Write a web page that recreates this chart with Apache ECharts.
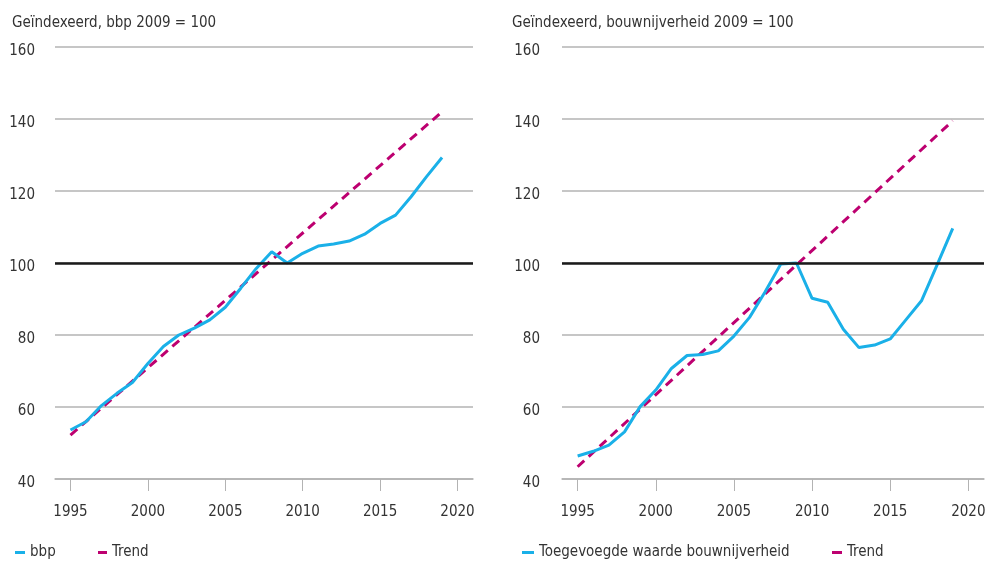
<!DOCTYPE html>
<html>
<head>
<meta charset="utf-8">
<script src="https://cdn.jsdelivr.net/npm/echarts@6/dist/echarts.min.js"></script>
<style>
html,body{margin:0;padding:0;background:#fff;}
#c{width:986px;height:564px;}
</style>
</head>
<body>
<div id="c"></div>
<script>
// ---- data ----
var years = [1995,1996,1997,1998,1999,2000,2001,2002,2003,2004,2005,2006,2007,2008,2009,2010,2011,2012,2013,2014,2015,2016,2017,2018,2019];
var bbp = [53.6,55.9,60.4,63.8,66.8,72.1,76.8,80.0,81.9,84.2,87.7,93.0,98.5,103.1,100,102.7,104.7,105.3,106.1,108.0,111.0,113.3,118.4,124.0,129.3];
var bouw = [46.4,47.7,49.4,53.1,60.1,64.7,70.7,74.3,74.6,75.6,79.7,84.9,92.0,99.7,100,90.2,89.1,81.6,76.5,77.2,78.9,84.2,89.5,99.5,109.6];
var trendYears = [1995, 2019];
var trendBbp = [52.2, 142.0];
var trendBouw = [43.4, 139.5];
var xTicks = [1995,2000,2005,2010,2015,2020];
var titles = ['Geïndexeerd, bbp 2009 = 100', 'Geïndexeerd, bouwnijverheid 2009 = 100'];
var nameBbp = 'bbp';
var nameBouw = 'Toegevoegde waarde bouwnijverheid';
var nameTrend = 'Trend';

function pairs(xs, ys){ return xs.map(function(x,i){ return [x, ys[i]]; }); }

var FONT = "'Liberation Sans Narrow','DejaVu Sans Condensed','Roboto',sans-serif";
var TXT = '#333';
var BLUE = '#1ab0e8';
var PINK = '#bd0070';
var GRID = '#b3b3b3';
var FS = 15;

function xAxis(idx){
  return {
    type:'value', gridIndex: idx, min:1994, max:2021,
    axisLine:{show:true, lineStyle:{color:GRID, width:1.5}},
    axisTick:{show:true, length:12, customValues: xTicks, lineStyle:{color:GRID, width:1}},
    axisLabel:{customValues: xTicks, color:TXT, fontFamily:FONT, fontSize:FS, margin:26,
      formatter:function(v){ return String(v); }},
    splitLine:{show:false}
  };
}
function yAxis(idx, margin){
  return {
    type:'value', gridIndex: idx, min:40, max:160, interval:20,
    axisLine:{show:false}, axisTick:{show:false},
    axisLabel:{color:TXT, fontFamily:FONT, fontSize:FS, margin:margin, verticalAlign:'top', lineHeight:9},
    splitLine:{show:true, lineStyle:{color:GRID, width:1.5}}
  };
}
var mark100 = {
  silent:true, symbol:['none','none'], label:{show:false},
  lineStyle:{color:'#1a1a1a', width:2.5, type:'solid'},
  data:[{yAxis:100}]
};
function blueSeries(name, idx, data){
  return {
    name:name, type:'line', xAxisIndex:idx, yAxisIndex:idx, data:data,
    showSymbol:false, symbol:'none', z:4,
    lineStyle:{color:BLUE, width:3}, itemStyle:{color:BLUE},
    markLine: mark100
  };
}
function trendSeries(idx, data){
  return {
    name:nameTrend, type:'line', xAxisIndex:idx, yAxisIndex:idx, data:data,
    showSymbol:false, symbol:'none', z:3,
    lineStyle:{color:PINK, width:3, type:[9,6]}, itemStyle:{color:PINK}
  };
}
function legend(left, name, w, gap){
  return {
    left:left, top:545, data:[name], icon:'rect', itemWidth:w, itemHeight:3,
    itemTextGap:gap, padding:0,
    textStyle:{color:TXT, fontFamily:FONT, fontSize:FS}
  };
}

var chart = echarts.init(document.getElementById('c'), null, {renderer:'canvas'});
chart.setOption({
  animation:false,
  backgroundColor:'#fff',
  title:[
    {text:titles[0], left:7, top:11, textStyle:{color:TXT, fontFamily:FONT, fontSize:FS, fontWeight:'normal'}},
    {text:titles[1], left:507, top:11, textStyle:{color:TXT, fontFamily:FONT, fontSize:FS, fontWeight:'normal'}}
  ],
  grid:[
    {left:55, right:513, top:47, bottom:85, outerBoundsMode:'none'},
    {left:562, right:2, top:47, bottom:85, outerBoundsMode:'none'}
  ],
  xAxis:[xAxis(0), xAxis(1)],
  yAxis:[yAxis(0,20), yAxis(1,22)],
  legend:[legend(15,nameBbp,10,7), legend(98,nameTrend,9,7), legend(522,nameBouw,12,8), legend(832,nameTrend,10,10)],
  series:[
    blueSeries(nameBbp, 0, pairs(years,bbp)),
    trendSeries(0, pairs(trendYears,trendBbp)),
    blueSeries(nameBouw, 1, pairs(years,bouw)),
    trendSeries(1, pairs(trendYears,trendBouw))
  ]
});
</script>
</body>
</html>
